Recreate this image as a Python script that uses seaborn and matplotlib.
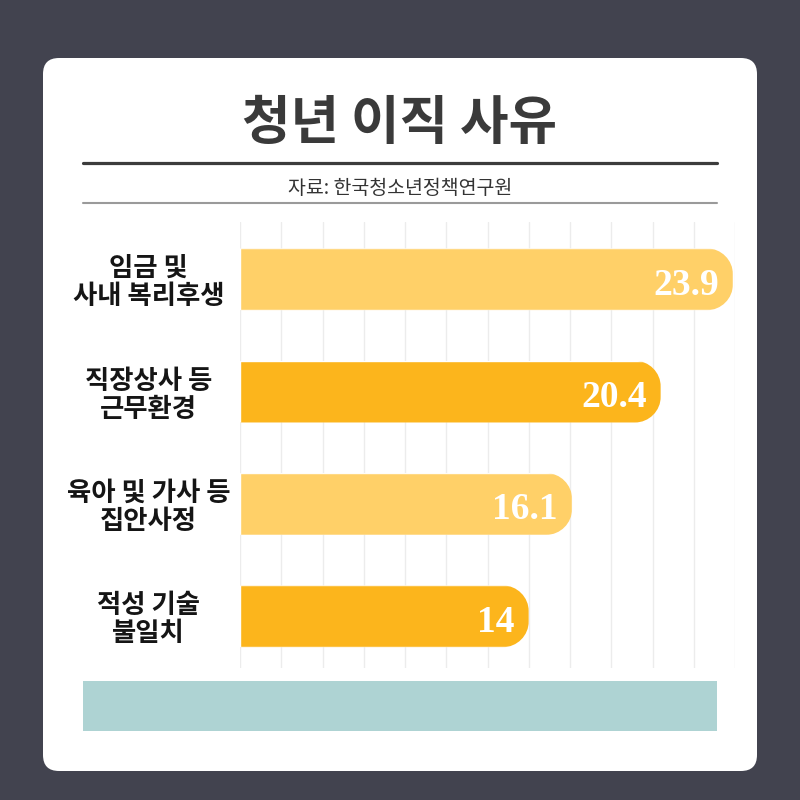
import pandas as pd
import matplotlib.pyplot as plt
import seaborn as sns
from matplotlib.path import Path
from matplotlib.patches import FancyBboxPatch, Rectangle
from matplotlib.lines import Line2D

# =========================================
# DATA
# =========================================

title = '청년 이직 사유'
source = '자료: 한국청소년정책연구원'
categories = ['임금 및\n사내 복리후생', '직장상사 등\n근무환경', '육아 및 가사 등\n집안사정', '적성 기술\n불일치']
values = [23.9, 20.4, 16.1, 14]
bar_colors = ['#FFD068', '#FCB51C', '#FFD068', '#FCB51C']

# =========================================
# STYLE
# =========================================

sns.set_theme(style='white')
plt.rcParams['font.family'] = ['Noto Sans CJK KR', 'DejaVu Sans']

BG = '#42434F'
W, H = 800, 800

def fx(px):
    return px / W

def fy(py):
    return 1 - py / H

fig = plt.figure(figsize=(8, 8), dpi=100, facecolor=BG)

# white card (drawn behind the axes)
card = FancyBboxPatch((fx(43), fy(771)), fx(757) - fx(43), fy(58) - fy(771),
                      boxstyle='round,pad=0,rounding_size=0.02',
                      transform=fig.transFigure, facecolor='white', edgecolor='none',
                      zorder=-2)
fig.add_artist(card)

# title + source
fig.text(0.5, fy(124), title, ha='center', va='center', fontsize=38,
         fontweight='black', color='#3a3a3a')
fig.add_artist(Line2D([fx(83), fx(717)], [fy(163), fy(163)], color='#3c3c3c',
                      lw=2.3, transform=fig.transFigure))
fig.text(0.5, fy(188), source, ha='center', va='center', fontsize=14, color='#333333')
fig.add_artist(Line2D([fx(83), fx(717)], [fy(203), fy(203)], color='#9a9a9a',
                      lw=1.5, transform=fig.transFigure))

# teal footer box
fig.add_artist(Rectangle((fx(83), fy(731)), fx(717) - fx(83), fy(681) - fy(731),
                         transform=fig.transFigure, facecolor='#AED3D3', edgecolor='none'))

# =========================================
# BAR CHART
# =========================================

df = pd.DataFrame({'사유': categories, '비율': values})

ax = fig.add_axes([fx(240), fy(668), fx(735) - fx(240), fy(222) - fy(668)])
ax.set_zorder(5)
sns.barplot(data=df, x='비율', y='사유', hue='사유', palette=bar_colors,
            legend=False, width=0.55, saturation=1, ax=ax)

ax.set_xlim(0, 24)
ax.set_ylim(3.46, -0.51)
ax.set_xticks(range(0, 25, 2))
ax.grid(axis='x', color='#ececec', lw=1)
ax.set_axisbelow(True)
ax.set_facecolor('none')
for s in ax.spines.values():
    s.set_visible(False)
ax.set_xlabel('')
ax.set_ylabel('')
ax.tick_params(axis='x', length=0, labelbottom=False)
ax.tick_params(axis='y', length=0, pad=66)
for lab in ax.get_yticklabels():
    lab.set_ha('center')
    lab.set_multialignment('center')
    lab.set_fontsize(19)
    lab.set_fontweight('black')
    lab.set_color('#151515')
    lab.set_linespacing(1.05)

# rounded right ends on the bars
sx = ax.transData.transform((1, 0))[0] - ax.transData.transform((0, 0))[0]
sy = abs(ax.transData.transform((0, 1))[1] - ax.transData.transform((0, 0))[1])
r = 26
rx, ry = r / sx, r / sy
k = 0.5523
for p in ax.patches:
    x0, w = p.get_x(), p.get_width()
    ya, h = p.get_y(), p.get_height()
    x1, yb = x0 + w, ya + h
    verts = [(x0, ya), (x1 - rx, ya),
             (x1 - rx + k * rx, ya), (x1, ya + ry - k * ry), (x1, ya + ry),
             (x1, yb - ry),
             (x1, yb - ry + k * ry), (x1 - rx + k * rx, yb), (x1 - rx, yb),
             (x0, yb), (x0, ya)]
    codes = [Path.MOVETO, Path.LINETO,
             Path.CURVE4, Path.CURVE4, Path.CURVE4,
             Path.LINETO,
             Path.CURVE4, Path.CURVE4, Path.CURVE4,
             Path.LINETO, Path.CLOSEPOLY]
    p.set_clip_path(Path(verts, codes), ax.transData)

# value labels
for i, v in enumerate(values):
    ax.annotate(f'{v:g}', xy=(v, i), xytext=(-14, -6), textcoords='offset pixels',
                ha='right', va='center', fontsize=27, fontweight='bold',
                family='Liberation Serif', color='white')

fig.savefig('out.png', dpi=100, facecolor=fig.get_facecolor())
